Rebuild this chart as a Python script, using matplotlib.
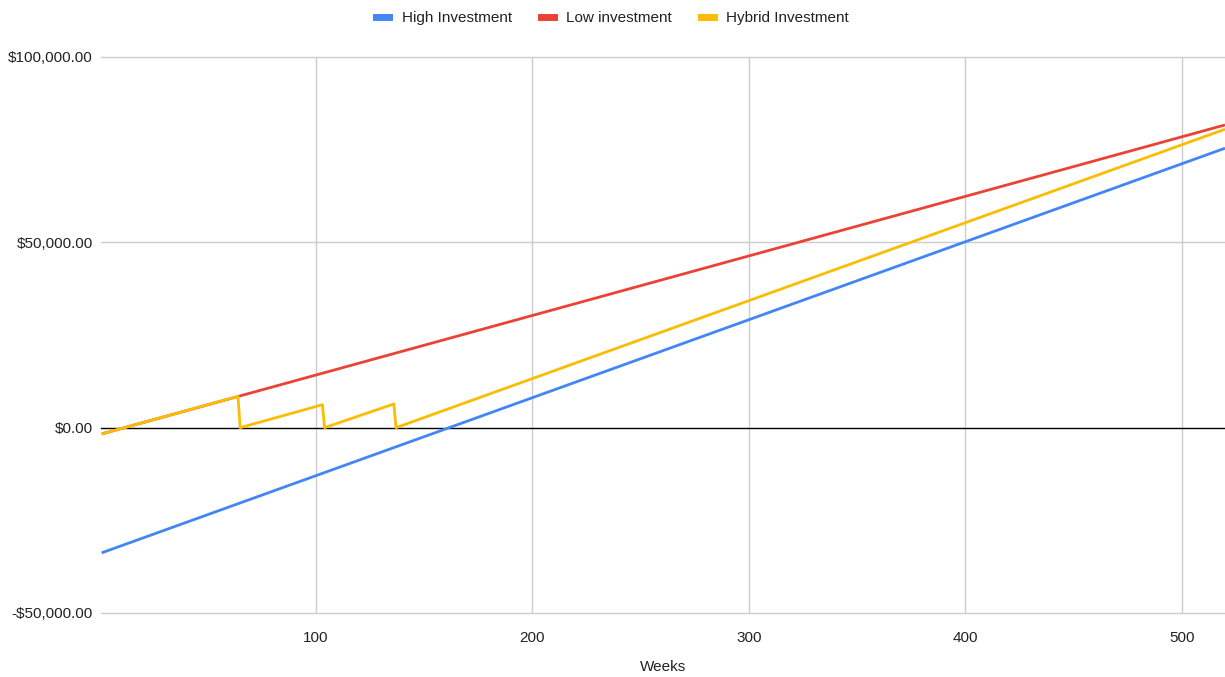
import matplotlib.pyplot as plt
from matplotlib.ticker import FuncFormatter
from matplotlib.lines import Line2D

plt.rcParams['font.family'] = ['Liberation Sans', 'DejaVu Sans']

# vertices (weeks, value in $)
high_weeks = [1, 520]
high_values = [-33770, 75390]

low_weeks = [1, 520]
low_values = [-1700, 81670]

hybrid_weeks = [1, 64, 65, 103, 104, 136, 137, 520]
hybrid_values = [-1700, 8440, 0, 6200, 0, 6390, 0, 80510]

series_names = ['High Investment', 'Low investment', 'Hybrid Investment']
colors = ['#4285F4', '#EA4335', '#FBBC04']

x_ticks = [100, 200, 300, 400, 500]
y_ticks = [-50000, 0, 50000, 100000]


def money(v, pos=None):
    if v < 0:
        return f'-${-v:,.2f}'
    return f'${v:,.2f}'


fig = plt.figure(figsize=(12.25, 6.77), dpi=100)
ax = fig.add_axes([101 / 1225, 1 - 613 / 677, 1 - 101 / 1225, (613 - 57) / 677])

for v in y_ticks:
    ax.axhline(v, color='#000000' if v == 0 else '#cccccc', lw=1.0,
               zorder=2 if v == 0 else 1, clip_on=False)
for v in x_ticks:
    ax.axvline(v, color='#cccccc', lw=1.0, zorder=1)

ax.plot(high_weeks, high_values, color=colors[0], lw=2.0, zorder=3, solid_capstyle='butt')
ax.plot(low_weeks, low_values, color=colors[1], lw=2.0, zorder=3, solid_capstyle='butt')
ax.plot(hybrid_weeks, hybrid_values, color=colors[2], lw=2.0, zorder=4, solid_capstyle='butt')

ax.set_xlim(0.7, 520)
ax.set_ylim(-50000, 100000)
ax.set_xticks(x_ticks)
ax.set_yticks(y_ticks)
ax.yaxis.set_major_formatter(FuncFormatter(money))
ax.tick_params(length=0, labelsize=11, colors='#222222')
ax.tick_params(axis='x', pad=13)
ax.tick_params(axis='y', pad=6)
for s in ax.spines.values():
    s.set_visible(False)

# x axis title placed directly, like the reference
fig.text((101 + 1225) / 2 / 1225, 1 - 667 / 677, 'Weeks', fontsize=11,
         color='#222222', ha='center', va='center')

handles = [Line2D([0], [0], color=c, lw=5) for c in colors]
fig.legend(handles, series_names, loc='upper center', bbox_to_anchor=(0.5, 1.004),
           ncol=3, frameon=False, fontsize=11, handlelength=0.85, columnspacing=1.9,
           handletextpad=0.8, labelcolor='#222222')

fig.savefig('out.png', dpi=100)
